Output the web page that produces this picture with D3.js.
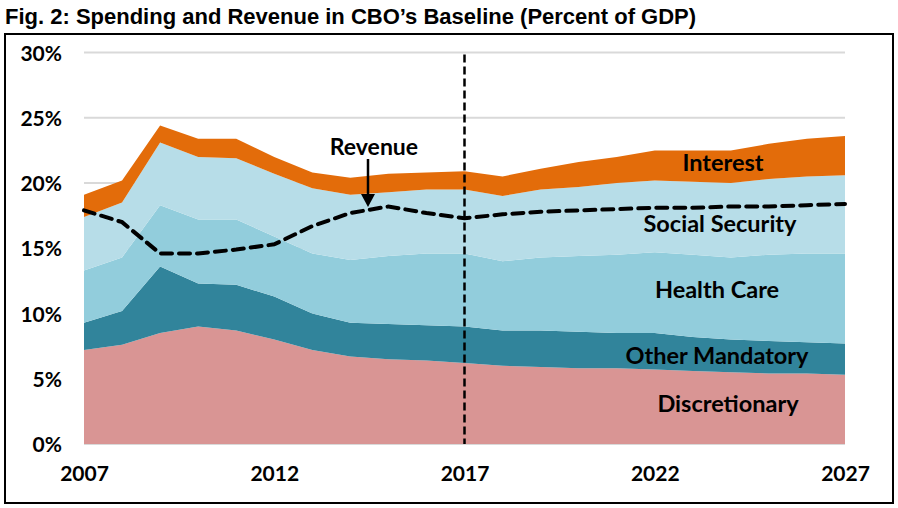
<!DOCTYPE html>
<html>
<head>
<meta charset="utf-8">
<script src="https://cdn.jsdelivr.net/npm/d3@7"></script>
<style>
  body { margin: 0; background: #fff; }
  svg { display: block; }
</style>
</head>
<body>
<svg id="chart" width="898" height="508"></svg>
<script>
// data, percent of GDP
var years = d3.range(2007, 2028);
var discretionary = [7.2, 7.6, 8.5, 9.0, 8.7, 8.0, 7.2, 6.7, 6.5, 6.4, 6.2, 6.0, 5.9, 5.8, 5.8, 5.7, 5.6, 5.5, 5.4, 5.4, 5.3];
var otherMandatory = [2.1, 2.6, 5.1, 3.3, 3.5, 3.3, 2.8, 2.6, 2.7, 2.7, 2.8, 2.7, 2.8, 2.8, 2.7, 2.8, 2.6, 2.5, 2.5, 2.4, 2.4];
var healthCare = [4.0, 4.1, 4.7, 4.9, 5.0, 4.6, 4.6, 4.8, 5.2, 5.5, 5.6, 5.3, 5.6, 5.8, 6.0, 6.2, 6.3, 6.3, 6.6, 6.8, 6.9];
var socialSecurity = [4.1, 4.2, 4.8, 4.8, 4.7, 4.8, 5.0, 5.0, 4.9, 4.9, 4.9, 5.0, 5.2, 5.3, 5.5, 5.5, 5.6, 5.7, 5.8, 5.9, 6.0];
var interest = [1.7, 1.7, 1.3, 1.4, 1.5, 1.3, 1.2, 1.3, 1.4, 1.3, 1.4, 1.5, 1.6, 1.9, 2.0, 2.3, 2.4, 2.5, 2.7, 2.9, 3.0];
var revenue = [17.9, 17.0, 14.6, 14.6, 14.9, 15.3, 16.7, 17.7, 18.2, 17.7, 17.3, 17.6, 17.8, 17.9, 18.0, 18.1, 18.1, 18.2, 18.2, 18.3, 18.4];

var seriesNames = ["Discretionary", "Other Mandatory", "Health Care", "Social Security", "Interest"];
var seriesColors = ["#d99594", "#31849b", "#92cddc", "#b7dde8", "#e36c0a"];
var yTicks = [0, 5, 10, 15, 20, 25, 30];
var xTicks = [2007, 2012, 2017, 2022, 2027];

var svg = d3.select("#chart");
var lblFont = "Lato, 'Open Sans', sans-serif";

var x = d3.scaleLinear().domain([2007, 2027]).range([84, 845]);
var y = d3.scaleLinear().domain([0, 30]).range([444, 52.5]);

// title
svg.append("text")
  .attr("x", 5).attr("y", 24)
  .attr("font-family", "'Liberation Sans Narrow', 'Arial Narrow', sans-serif")
  .attr("font-weight", "bold")
  .attr("font-size", 22)
  .text("Fig. 2: Spending and Revenue in CBO\u2019s Baseline (Percent of GDP)");

// frame
svg.append("rect")
  .attr("x", 5).attr("y", 34).attr("width", 888).attr("height", 469)
  .attr("fill", "none").attr("stroke", "#000").attr("stroke-width", 2);

// gridlines
svg.append("g").selectAll("line")
  .data(yTicks)
  .enter().append("line")
  .attr("x1", x(2007)).attr("x2", x(2027))
  .attr("y1", function (d) { return y(d); })
  .attr("y2", function (d) { return y(d); })
  .attr("stroke", "#d9d9d9").attr("stroke-width", 2);

// stack
var table = years.map(function (yr, i) {
  return {
    year: yr,
    "Discretionary": discretionary[i],
    "Other Mandatory": otherMandatory[i],
    "Health Care": healthCare[i],
    "Social Security": socialSecurity[i],
    "Interest": interest[i]
  };
});
var stacked = d3.stack().keys(seriesNames)(table);

var area = d3.area()
  .x(function (d) { return x(d.data.year); })
  .y0(function (d) { return y(d[0]); })
  .y1(function (d) { return y(d[1]); });

svg.append("g").selectAll("path")
  .data(stacked)
  .enter().append("path")
  .attr("d", area)
  .attr("fill", function (d, i) { return seriesColors[i]; });

// y axis labels
var yAxis = d3.axisLeft(y).tickValues(yTicks).tickFormat(function (d) { return d + "%"; }).tickSize(0).tickPadding(0);
var ga = svg.append("g").attr("transform", "translate(62,1)").call(yAxis);
ga.select(".domain").remove();
ga.selectAll("text")
  .attr("font-family", lblFont).attr("font-weight", "bold").attr("font-size", 21).attr("fill", "#000");

// x axis labels
var xAxis = d3.axisBottom(x).tickValues(xTicks).tickFormat(d3.format("d")).tickSize(0).tickPadding(0);
var gx = svg.append("g").attr("transform", "translate(0,466)").call(xAxis);
gx.select(".domain").remove();
gx.selectAll("text")
  .attr("font-family", lblFont).attr("font-weight", "bold").attr("font-size", 21).attr("fill", "#000");

// projection divider
svg.append("line")
  .attr("x1", x(2017)).attr("x2", x(2017))
  .attr("y1", y(30) + 2).attr("y2", y(0))
  .attr("stroke", "#000").attr("stroke-width", 2.5)
  .attr("stroke-dasharray", "8,4");

// revenue
var line = d3.line()
  .x(function (d, i) { return x(years[i]); })
  .y(function (d) { return y(d); });
svg.append("path")
  .attr("d", line(revenue))
  .attr("fill", "none").attr("stroke", "#000").attr("stroke-width", 4)
  .attr("stroke-dasharray", "11,7").attr("stroke-linecap", "round");

// annotation
svg.append("text")
  .attr("x", 374).attr("y", 155)
  .attr("text-anchor", "middle")
  .attr("font-family", lblFont).attr("font-weight", "bold").attr("font-size", 23)
  .text("Revenue");
svg.append("line")
  .attr("x1", 368).attr("x2", 368).attr("y1", 159).attr("y2", 196)
  .attr("stroke", "#000").attr("stroke-width", 2.5);
svg.append("path")
  .attr("d", "M361,194 L375,194 L368,207 Z")
  .attr("fill", "#000");

// series labels
var labelPos = [[728, 412], [717, 364], [717, 298], [720, 232], [723, 171]];
svg.append("g").selectAll("text")
  .data(seriesNames)
  .enter().append("text")
  .attr("x", function (d, i) { return labelPos[i][0]; })
  .attr("y", function (d, i) { return labelPos[i][1]; })
  .attr("text-anchor", "middle")
  .attr("font-family", lblFont).attr("font-weight", "bold").attr("font-size", 23.5)
  .attr("fill", "#000")
  .text(function (d) { return d; });
</script>
</body>
</html>
